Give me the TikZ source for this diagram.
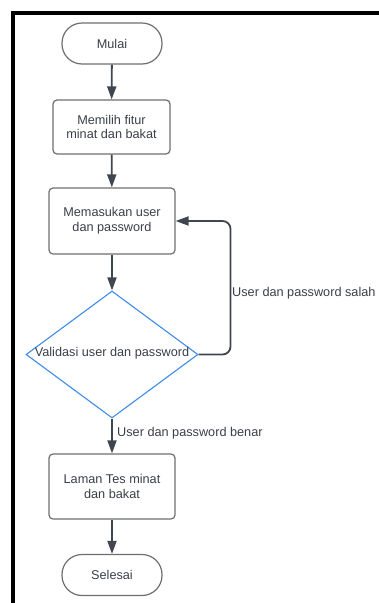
\documentclass[tikz,border=0pt]{standalone}
\usepackage{fontspec}
\setmainfont{Liberation Sans}
\usetikzlibrary{shapes.geometric,arrows.meta}
\definecolor{inkgray}{HTML}{3A3F47}
\definecolor{edgegray}{HTML}{6E6E6E}
\definecolor{wiregray}{HTML}{40464F}
\definecolor{decblue}{HTML}{3C8CE8}
\begin{document}
\begin{tikzpicture}[x=1pt,y=-1pt,
  every node/.style={font=\fontsize{12.7}{14.8}\selectfont, text=inkgray},
  terminal/.style={draw=edgegray, line width=1.2pt, rounded corners=20pt,
    minimum width=100pt, minimum height=41pt, inner sep=0pt},
  process/.style={draw=edgegray, line width=1.2pt, rounded corners=4pt,
    align=center, inner sep=0pt},
  decision/.style={diamond, draw=decblue, line width=1.1pt, inner sep=0pt,
    minimum width=172pt, minimum height=127pt},
  flow/.style={draw=wiregray, line width=1.8pt,
    -{Triangle[length=13pt,width=9pt]}},
  edgelabel/.style={anchor=west, inner sep=0pt}]
  \useasboundingbox (0,0) rectangle (379,603);
  % page frame (top-left corner)
  \draw[line width=3.5pt, line join=miter] (13.2,603) -- (13.2,13.2) -- (379,13.2);

  % nodes
  \node[terminal] (mulai) at (112,43.5) {Mulai};
  \node[process, minimum width=117pt, minimum height=54pt] (pilih) at (111.5,127)
    {Memilih fitur\\minat dan bakat};
  \node[process, minimum width=126pt, minimum height=66pt] (masuk) at (112,221)
    {Memasukan user\\dan password};
  \node[decision] (valid) at (112,354.5) {};
  \node (validtext) at (112,353) {Validasi user dan password};
  \node[process, minimum width=126pt, minimum height=65pt] (laman) at (112,486.5)
    {Laman Tes minat\\dan bakat};
  \node[terminal] (selesai) at (112,575) {Selesai};

  % connectors
  \draw[flow] (mulai) -- (pilih);
  \draw[flow] (pilih) -- (masuk);
  \draw[flow] (masuk) -- (valid);
  \draw[flow, rounded corners=8pt] (valid.east) -- ++(32,0) |- (masuk.east);
  \draw[flow] (valid) -- (laman);
  \draw[flow] (laman) -- (selesai);

  % edge labels
  \node[edgelabel] (lblsalah) at (232,293) {User dan password salah};
  \node[edgelabel] (lblbenar) at (117,433) {User dan password benar};
\end{tikzpicture}
\end{document}
